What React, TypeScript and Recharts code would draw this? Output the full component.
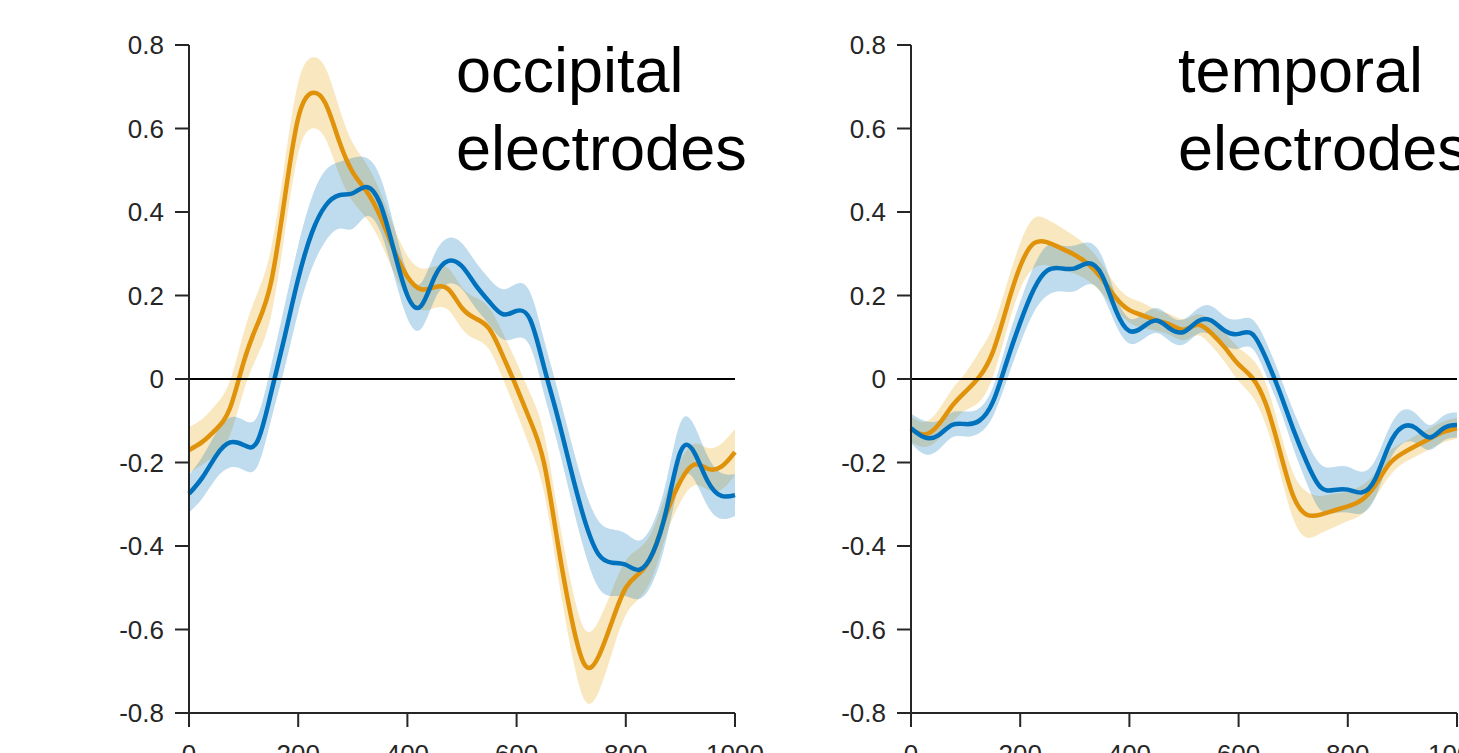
import { Area, ComposedChart, Line, ReferenceLine, XAxis, YAxis } from 'recharts';

// time in ms
const times = [
  0, 25, 50, 75, 100, 125, 150, 175, 200, 225, 250, 275, 300, 325, 350, 375, 400, 425, 450, 475, 500,
  525, 550, 575, 600, 625, 650, 675, 700, 725, 750, 775, 800, 825, 850, 875, 900, 925, 950, 975, 1000,
];

// occipital electrodes
const occOrange = [
  -0.17, -0.15, -0.12, -0.07, 0.04, 0.13, 0.23, 0.43, 0.625, 0.685, 0.66, 0.57, 0.495, 0.45, 0.39, 0.31,
  0.245, 0.215, 0.22, 0.215, 0.17, 0.145, 0.12, 0.055, -0.02, -0.1, -0.2, -0.39, -0.57, -0.685, -0.665,
  -0.58, -0.5, -0.465, -0.415, -0.32, -0.245, -0.205, -0.215, -0.21, -0.175,
];
const occOrangeErr = [
  0.055, 0.055, 0.06, 0.065, 0.07, 0.075, 0.08, 0.085, 0.085, 0.085, 0.085, 0.08, 0.07, 0.065, 0.06, 0.055,
  0.05, 0.05, 0.05, 0.05, 0.05, 0.05, 0.05, 0.055, 0.06, 0.065, 0.07, 0.075, 0.08, 0.085, 0.085, 0.075,
  0.065, 0.06, 0.055, 0.05, 0.05, 0.05, 0.05, 0.055, 0.055,
];
const occBlue = [
  -0.275, -0.235, -0.183, -0.152, -0.158, -0.15, -0.035, 0.1, 0.24, 0.35, 0.415, 0.44, 0.445, 0.46, 0.42,
  0.31, 0.2, 0.175, 0.245, 0.283, 0.27, 0.225, 0.185, 0.155, 0.163, 0.142, 0.03, -0.09, -0.22, -0.34,
  -0.42, -0.44, -0.445, -0.457, -0.415, -0.31, -0.175, -0.175, -0.245, -0.28, -0.278,
];
const occBlueErr = [
  0.045, 0.05, 0.055, 0.06, 0.06, 0.06, 0.065, 0.075, 0.08, 0.085, 0.085, 0.08, 0.085, 0.07, 0.065, 0.06,
  0.055, 0.055, 0.055, 0.055, 0.055, 0.055, 0.055, 0.06, 0.065, 0.065, 0.065, 0.065, 0.07, 0.075, 0.08,
  0.08, 0.075, 0.07, 0.07, 0.07, 0.07, 0.065, 0.06, 0.055, 0.05,
];

// temporal electrodes
const tmpOrange = [
  -0.12, -0.133, -0.11, -0.065, -0.03, 0.005, 0.065, 0.17, 0.27, 0.325, 0.327, 0.313, 0.297, 0.275, 0.24,
  0.195, 0.165, 0.152, 0.14, 0.13, 0.118, 0.13, 0.11, 0.075, 0.035, 0.003, -0.06, -0.17, -0.28, -0.325,
  -0.325, -0.315, -0.305, -0.29, -0.255, -0.205, -0.178, -0.16, -0.143, -0.127, -0.118,
];
const tmpOrangeErr = [
  0.03, 0.03, 0.035, 0.04, 0.045, 0.06, 0.06, 0.055, 0.055, 0.06, 0.055, 0.05, 0.045, 0.04, 0.035, 0.03,
  0.03, 0.03, 0.025, 0.025, 0.025, 0.025, 0.03, 0.035, 0.04, 0.045, 0.05, 0.05, 0.055, 0.055, 0.045, 0.04,
  0.035, 0.035, 0.03, 0.03, 0.025, 0.025, 0.025, 0.025, 0.025,
];
const tmpBlue = [
  -0.118, -0.14, -0.135, -0.11, -0.108, -0.1, -0.055, 0.04, 0.135, 0.215, 0.26, 0.265, 0.265, 0.277, 0.248,
  0.165, 0.115, 0.125, 0.14, 0.12, 0.113, 0.138, 0.14, 0.115, 0.108, 0.108, 0.05, -0.03, -0.12, -0.2,
  -0.259, -0.266, -0.265, -0.272, -0.24, -0.16, -0.115, -0.118, -0.14, -0.118, -0.11,
];
const tmpBlueErr = [
  0.035, 0.04, 0.035, 0.03, 0.03, 0.03, 0.035, 0.045, 0.05, 0.055, 0.06, 0.055, 0.055, 0.05, 0.045, 0.035,
  0.03, 0.03, 0.03, 0.03, 0.03, 0.03, 0.035, 0.035, 0.035, 0.035, 0.04, 0.04, 0.045, 0.05, 0.055, 0.055,
  0.055, 0.05, 0.045, 0.04, 0.04, 0.035, 0.03, 0.03, 0.03,
];

const xTicks = [0, 200, 400, 600, 800, 1000];
const yTicks = [-0.8, -0.6, -0.4, -0.2, 0, 0.2, 0.4, 0.6, 0.8];
const titles = [
  ['occipital', 'electrodes'],
  ['temporal', 'electrodes'],
];

const ORANGE = '#E0920B';
const BLUE = '#0072BD';
const AXIS = '#262626';
const FONT = '"Liberation Sans", Arial, Helvetica, sans-serif';

function buildRows(o: number[], oe: number[], b: number[], be: number[]) {
  return times.map((t, i) => ({
    t,
    orange: o[i],
    blue: b[i],
    orangeBand: [o[i] - oe[i], o[i] + oe[i]],
    blueBand: [b[i] - be[i], b[i] + be[i]],
  }));
}

const panels = [
  buildRows(occOrange, occOrangeErr, occBlue, occBlueErr),
  buildRows(tmpOrange, tmpOrangeErr, tmpBlue, tmpBlueErr),
];

const fmtY = (v: number) => (Math.abs(v) < 1e-9 ? '0' : v.toFixed(1));

function Panel({ data, title, left }: { data: any[]; title: string[]; left: number }) {
  return (
    <div style={{ position: 'absolute', left, top: 0 }}>
      <ComposedChart width={800} height={800} data={data} margin={{ top: 45, right: 65, bottom: 27, left: 89 }}>
        <XAxis
          type="number"
          dataKey="t"
          domain={[0, 1000]}
          ticks={xTicks}
          height={60}
          tickSize={14}
          tickMargin={18}
          axisLine={{ stroke: AXIS, strokeWidth: 2 }}
          tickLine={{ stroke: AXIS, strokeWidth: 2 }}
          tick={{ fill: AXIS, fontSize: 26, fontFamily: FONT }}
        />
        <YAxis
          type="number"
          domain={[-0.8, 0.8]}
          ticks={yTicks}
          width={100}
          tickSize={14}
          tickMargin={11}
          tickFormatter={fmtY}
          axisLine={{ stroke: AXIS, strokeWidth: 2 }}
          tickLine={{ stroke: AXIS, strokeWidth: 2 }}
          tick={{ fill: AXIS, fontSize: 26, fontFamily: FONT }}
        />
        <Area type="natural" dataKey="orangeBand" stroke="none" fill="#E69F00" fillOpacity={0.25} isAnimationActive={false} />
        <Line type="natural" dataKey="orange" stroke={ORANGE} strokeWidth={4.5} dot={false} isAnimationActive={false} />
        <Area type="natural" dataKey="blueBand" stroke="none" fill={BLUE} fillOpacity={0.25} isAnimationActive={false} />
        <Line type="natural" dataKey="blue" stroke={BLUE} strokeWidth={4.5} dot={false} isAnimationActive={false} />
        <ReferenceLine y={0} stroke="#000" strokeWidth={2} />
      </ComposedChart>
      <div
        style={{
          position: 'absolute',
          left: 456,
          top: 31,
          fontFamily: FONT,
          fontSize: 63,
          lineHeight: '78px',
          color: '#000',
          whiteSpace: 'nowrap',
        }}
      >
        {title.map((line) => (
          <div key={line}>{line}</div>
        ))}
      </div>
    </div>
  );
}

export default function App() {
  return (
    <div
      style={{
        position: 'fixed',
        left: 0,
        top: 0,
        width: 1459,
        height: 753,
        overflow: 'hidden',
        background: '#fff',
      }}
    >
      <Panel data={panels[0]} title={titles[0]} left={0} />
      <Panel data={panels[1]} title={titles[1]} left={722} />
    </div>
  );
}
